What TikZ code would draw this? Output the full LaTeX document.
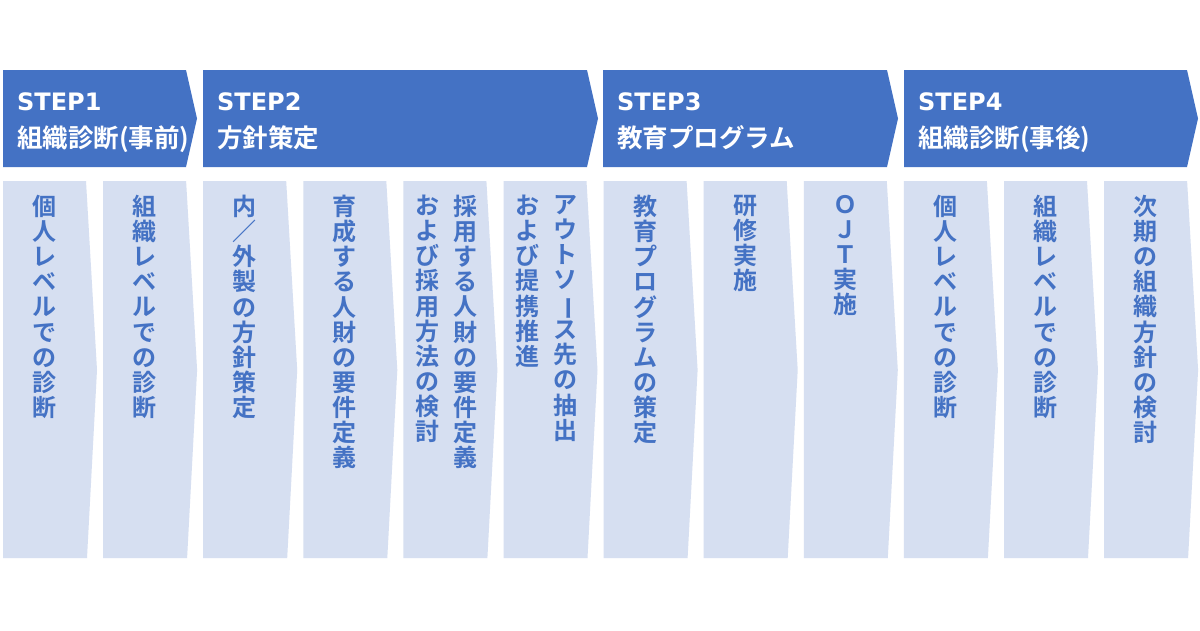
\documentclass[tikz,border=0pt]{standalone}
\usepackage{fontspec}
\usepackage{graphicx}
\newfontfamily\jpfont{Noto Sans CJK JP}[BoldFont=* Bold]
\newfontfamily\stepfont{DejaVu Sans}
\definecolor{stepblue}{HTML}{4472C4}
\definecolor{colblue}{HTML}{D6DFF1}
\makeatletter
% one character per line, top to bottom
\newcommand\tate[1]{\vtop{\baselineskip=25.1pt\lineskiplimit=-100pt
  \@tfor\tatechar:=#1\do{\hbox to 24pt{\hss\tatechar\hss}}}}
\makeatother
\newcommand\bou{\rotatebox[origin=c]{-90}{ー}}
\begin{document}
\begin{tikzpicture}[x=1pt,y=-1pt,
  head/.style={fill=stepblue,draw=none},
  col/.style={fill=colblue,draw=none},
  steplabel/.style={anchor=base west,inner sep=0,text=white,font=\stepfont\bfseries\fontsize{24pt}{24pt}\selectfont},
  headlabel/.style={anchor=base west,inner sep=0,text=white,font=\jpfont\bfseries\fontsize{25.5pt}{25.5pt}\selectfont},
  collabel/.style={anchor=north,inner sep=0,text=stepblue,font=\jpfont\bfseries\fontsize{24pt}{24pt}\selectfont}]
\path[use as bounding box,fill=white] (0,0) rectangle (1200,630);
% step headers
\foreach \a/\b in {3/186,203/587,603/887,904/1187}
  \fill[head] (\a,70) -- (\b,70) -- (\b+11,118.5) -- (\b,167) -- (\a,167) -- cycle;
\node[steplabel] (s1) at (17,110) {STEP1};
\node[headlabel] (h1) at (17,147.5) {組織診断(事前)};
\node[steplabel] (s2) at (217,110) {STEP2};
\node[headlabel] (h2) at (217,147.5) {方針策定};
\node[steplabel] (s3) at (617,110) {STEP3};
\node[headlabel] (h3) at (617,147.5) {教育プログラム};
\node[steplabel] (s4) at (918,110) {STEP4};
\node[headlabel] (h4) at (918,147.5) {組織診断(事後)};
% columns
\foreach \i in {0,...,11}
  \fill[col] ({3+100.1*\i},181) -- ++(83,0) -- ++(11,189) -- ++(-10,188) -- ({3+100.1*\i},558) -- cycle;
\node[collabel] (c1) at (44.5,195) {\tate{個人レベルでの診断}};
\node[collabel] (c2) at (144.6,195) {\tate{組織レベルでの診断}};
\node[collabel] (c3) at (244.7,195) {\tate{内／外製の方針策定}};
\node[collabel] (c4) at (344.8,195) {\tate{育成する人財の要件定義}};
\node[collabel] (c5a) at (465.4,195) {\tate{採用する人財の要件定義}};
\node[collabel] (c5b) at (427.4,195) {\tate{および採用方法の検討}};
\node[collabel] (c6a) at (565.5,195) {\tate{アウトソ\bou ス先の抽出}};
\node[collabel] (c6b) at (527.5,195) {\tate{および提携推進}};
\node[collabel] (c7) at (645.1,195) {\tate{教育プログラムの策定}};
\node[collabel] (c8) at (745.2,195) {\tate{研修実施}};
\node[collabel] (c9) at (845.3,195) {\tate{ＯＪＴ実施}};
\node[collabel] (c10) at (945.4,195) {\tate{個人レベルでの診断}};
\node[collabel] (c11) at (1045.5,195) {\tate{組織レベルでの診断}};
\node[collabel] (c12) at (1145.6,195) {\tate{次期の組織方針の検討}};
\end{tikzpicture}
\end{document}
